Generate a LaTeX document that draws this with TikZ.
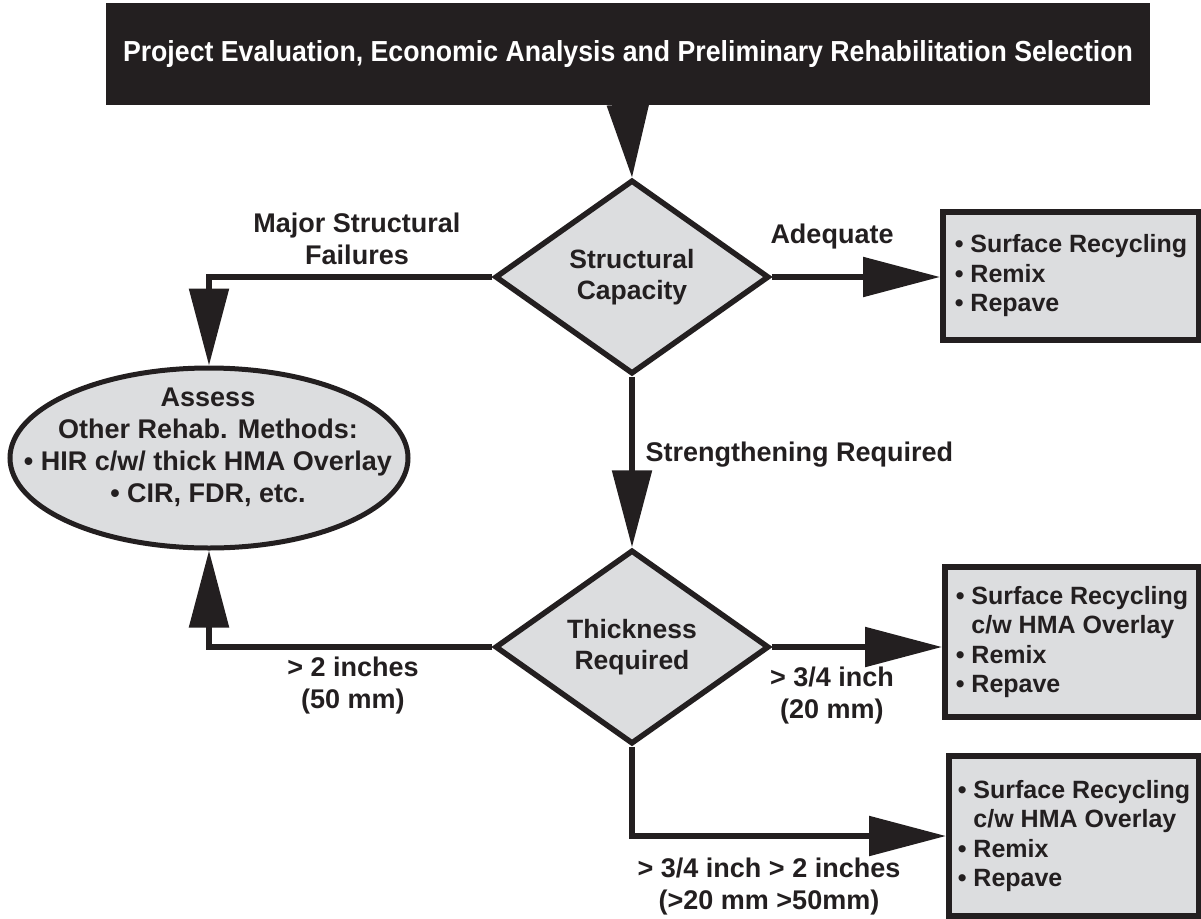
\documentclass[tikz,border=0pt]{standalone}
\usepackage{fontspec}
\usepackage{graphicx}
\setmainfont{Liberation Sans}
\usetikzlibrary{shapes.geometric,arrows.meta}
\definecolor{ink}{HTML}{231F20}
\definecolor{pale}{HTML}{DCDDDF}
\begin{document}
\begin{tikzpicture}[x=1pt,y=-1pt,
  every node/.style={font=\fontsize{24}{29}\selectfont\bfseries, text=ink},
  titlebox/.style={rectangle, fill=ink, draw=none, minimum width=1044pt, minimum height=102pt, inner sep=0pt, text=white},
  decision/.style={diamond, draw=ink, fill=pale, line width=5.5pt, minimum width=274pt, minimum height=194pt, inner sep=0pt, align=center, font=\fontsize{26.5}{31}\selectfont\bfseries},
  outcome/.style={rectangle, draw=ink, fill=pale, line width=6pt, inner sep=0pt, align=left, font=\fontsize{25}{29.5}\selectfont\bfseries},
  assess/.style={ellipse, draw=ink, fill=pale, line width=5pt, minimum width=398pt, minimum height=180pt, inner sep=0pt},
  lbl/.style={align=center, font=\fontsize{27}{32}\selectfont\bfseries},
  conn/.style={draw=ink, line width=5.5pt, -{Triangle[length=77pt,width=39pt]}},
  topconn/.style={draw=ink, line width=3pt, -{Triangle[length=73pt,width=42pt]}}
]
\useasboundingbox (0,0) rectangle (1201,918);

% nodes
\node[titlebox] (top) at (628,54) {\resizebox{1010pt}{21pt}{Project Evaluation, Economic Analysis and Preliminary Rehabilitation Selection}};
\node[decision] (sc) at (632,277) {Structural\\Capacity};
\node[decision] (tr) at (632,647) {Thickness\\Required};
\node[assess] (as) at (209,458) {};
\node[lbl] (asT) at (208,447) {Assess\\Other Rehab. Methods:\\\textbullet{} HIR c/w/ thick HMA Overlay\\\textbullet{} CIR, FDR, etc.};
\node[outcome, minimum width=256pt, minimum height=128pt] (b1) at (1071,276) {\textbullet{} Surface Recycling\\\textbullet{} Remix\\\textbullet{} Repave};
\node[outcome, minimum width=254pt, minimum height=150pt] (b2) at (1072,642) {\textbullet{} Surface Recycling\\\phantom{\textbullet{} }c/w HMA Overlay\\\textbullet{} Remix\\\textbullet{} Repave};
\node[outcome, minimum width=250pt, minimum height=160pt] (b3) at (1074,836) {\textbullet{} Surface Recycling\\\phantom{\textbullet{} }c/w HMA Overlay\\\textbullet{} Remix\\\textbullet{} Repave};

% labels
\node[lbl] (lMSF) at (357,239) {Major Structural\\Failures};
\node[lbl] (lAd) at (832,237) {Adequate};
\node[lbl, anchor=west] (lSR) at (642,455) {Strengthening Required};
\node[lbl] (l2in) at (353,686) {> 2 inches\\(50 mm)};
\node[lbl] (l34) at (832,696) {> 3/4 inch\\(20 mm)};
\node[lbl] (l342) at (769,887) {> 3/4 inch > 2 inches\\(>20 mm >50mm)};

% connectors
\draw[topconn] (top.south) -- (sc.north);
\draw[conn] (sc.west) -| (as.north);
\draw[conn] (sc.east) -- (sc.east -| b1.west);
\draw[conn] (sc.south) -- (tr.north);
\draw[conn] (tr.west) -| (as.south);
\draw[conn] (tr.east) -- (tr.east -| b2.west);
\draw[conn] (tr.south) |- (b3.west);
\end{tikzpicture}
\end{document}
